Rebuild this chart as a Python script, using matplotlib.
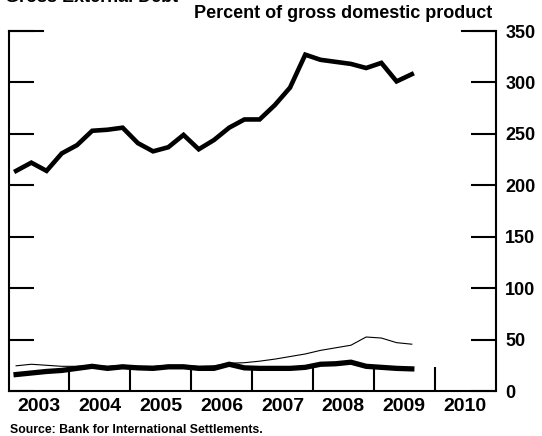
#!/usr/bin/env python3
"""
Gross external debt, percent of GDP (quarterly, 2003-2009).
"""
import matplotlib
matplotlib.use("Agg")
import matplotlib.pyplot as plt
import numpy as np

# quarterly observations, plotted at mid-quarter
quarters = np.arange(2003.125, 2009.7, 0.25)

upper_thick = [214, 222, 214, 231, 239, 253, 254, 256,
               241, 233, 237, 249, 235, 244, 256, 264,
               264, 278, 295, 327, 322, 320, 318, 314,
               319, 301, 308]
lower_thin = [24.5, 26, 25, 24, 24, 25, 24, 25,
              24, 24, 25, 25, 24, 24.5, 27, 27.5,
              29, 31, 33.5, 36, 39.5, 42, 44.5, 52.5,
              51.5, 47, 45.5]
lower_thick = [16, 17.5, 19, 20, 22, 24, 22, 23.5,
               22.5, 22, 23.5, 23.5, 22, 22, 26, 22.5,
               22, 22, 22, 23, 26, 26.5, 28, 24,
               23, 22, 21.5]

years = list(range(2003, 2011))
y_ticks = [0, 50, 100, 150, 200, 250, 300, 350]

plt.rcParams['font.family'] = ['Liberation Sans', 'DejaVu Sans']
plt.rcParams['font.weight'] = 'bold'

W, H = 542, 436
fig = plt.figure(figsize=(W / 100, H / 100), dpi=100)
ax = fig.add_axes([8.5 / W, 1 - 391 / H, 487 / W, 360 / H])

ax.plot(quarters, upper_thick, color='black', lw=3.3, solid_joinstyle='miter')
ax.plot(quarters, lower_thin, color='black', lw=0.8)
ax.plot(quarters, lower_thick, color='black', lw=3.8, solid_joinstyle='miter')

ax.set_xlim(2003, 2011)
ax.set_ylim(0, 350)

# year boundaries as major ticks, year labels centered between them
ax.set_xticks(years[1:])
ax.set_xticklabels([])
ax.set_xticks([y + 0.5 for y in years], minor=True)
ax.set_xticklabels([str(y) for y in years], minor=True, fontsize=14, fontweight='bold')
ax.tick_params(axis='x', which='major', direction='in', length=17, width=1.5)
ax.tick_params(axis='x', which='minor', length=0, pad=5)

ax.set_yticks(y_ticks)
ax.set_yticklabels([str(v) for v in y_ticks])
ax.tick_params(axis='y', direction='in', length=18, width=1.5, left=True, right=True,
               labelleft=False, labelright=True, labelsize=13, pad=7)

# longer corner marks at the top of the scale
ax.axhline(350, xmin=0, xmax=34 / 487, color='black', lw=1.5, clip_on=False)
ax.axhline(350, xmin=1 - 34 / 487, xmax=1, color='black', lw=1.5, clip_on=False)

for side in ('left', 'right', 'bottom'):
    ax.spines[side].set_linewidth(1.5)
ax.spines['top'].set_visible(False)

fig.text(5 / W, 1 - 2 / H, 'Gross External Debt', ha='left', va='baseline',
         fontsize=13, fontweight='bold')
fig.text(492 / W, 1 - 18 / H, 'Percent of gross domestic product', ha='right',
         va='baseline', fontsize=13, fontweight='bold')
fig.text(10 / W, 1 - 433 / H, 'Source: Bank for International Settlements.', ha='left',
         va='baseline', fontsize=8.8, fontweight='bold')

fig.savefig('out.png', dpi=100)
